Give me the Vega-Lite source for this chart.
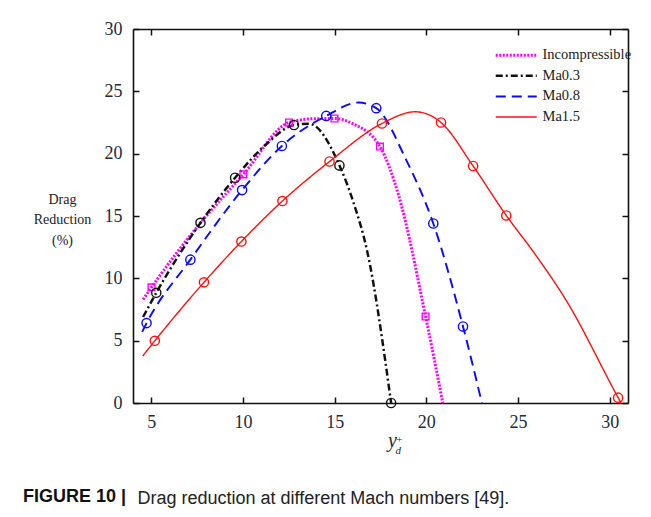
{
  "$schema": "https://vega.github.io/schema/vega-lite/v6.json",
  "width": 495,
  "height": 374,
  "autosize": {"type": "none"},
  "padding": {"left": 133, "top": 29, "right": 23, "bottom": 114},
  "background": "white",
  "title": {
    "text": "FIGURE 10 |",
    "orient": "bottom",
    "anchor": "start",
    "frame": "group",
    "font": "Liberation Sans",
    "fontSize": 18,
    "fontWeight": "bold",
    "color": "#111111",
    "dx": -110,
    "dy": -27,
    "offset": 8
  },
  "data": {
    "values": [
      {"s": "Incompressible", "x": 4.55, "y": 8.3, "m": 0},
      {"s": "Incompressible", "x": 5.01, "y": 9.28, "m": 1},
      {"s": "Incompressible", "x": 7.6, "y": 14.3, "m": 0},
      {"s": "Incompressible", "x": 10.02, "y": 18.34, "m": 1},
      {"s": "Incompressible", "x": 12.51, "y": 22.5, "m": 1},
      {"s": "Incompressible", "x": 13.8, "y": 22.8, "m": 0},
      {"s": "Incompressible", "x": 14.99, "y": 22.82, "m": 1},
      {"s": "Incompressible", "x": 16.0, "y": 22.4, "m": 0},
      {"s": "Incompressible", "x": 17.47, "y": 20.57, "m": 1},
      {"s": "Incompressible", "x": 18.5, "y": 16.6, "m": 0},
      {"s": "Incompressible", "x": 19.96, "y": 6.94, "m": 1},
      {"s": "Incompressible", "x": 20.9, "y": 0, "m": 0},
      {"s": "Ma0.3", "x": 4.55, "y": 6.9, "m": 0},
      {"s": "Ma0.3", "x": 5.27, "y": 8.84, "m": 1},
      {"s": "Ma0.3", "x": 7.68, "y": 14.45, "m": 1},
      {"s": "Ma0.3", "x": 9.57, "y": 18.07, "m": 1},
      {"s": "Ma0.3", "x": 11.3, "y": 20.8, "m": 0},
      {"s": "Ma0.3", "x": 12.78, "y": 22.3, "m": 1},
      {"s": "Ma0.3", "x": 13.6, "y": 22.4, "m": 0},
      {"s": "Ma0.3", "x": 15.26, "y": 19.06, "m": 1},
      {"s": "Ma0.3", "x": 16.0, "y": 16.2, "m": 0},
      {"s": "Ma0.3", "x": 16.8, "y": 12.0, "m": 0},
      {"s": "Ma0.3", "x": 18.08, "y": 0, "m": 1},
      {"s": "Ma0.8", "x": 4.5, "y": 5.7, "m": 0},
      {"s": "Ma0.8", "x": 4.74, "y": 6.41, "m": 1},
      {"s": "Ma0.8", "x": 7.13, "y": 11.5, "m": 1},
      {"s": "Ma0.8", "x": 9.95, "y": 17.08, "m": 1},
      {"s": "Ma0.8", "x": 12.12, "y": 20.62, "m": 1},
      {"s": "Ma0.8", "x": 14.54, "y": 23.03, "m": 1},
      {"s": "Ma0.8", "x": 16.3, "y": 24.1, "m": 0},
      {"s": "Ma0.8", "x": 17.27, "y": 23.65, "m": 1},
      {"s": "Ma0.8", "x": 18.9, "y": 19.5, "m": 0},
      {"s": "Ma0.8", "x": 20.38, "y": 14.4, "m": 1},
      {"s": "Ma0.8", "x": 22.0, "y": 6.14, "m": 1},
      {"s": "Ma0.8", "x": 23.03, "y": 0, "m": 0},
      {"s": "Ma1.5", "x": 4.53, "y": 3.77, "m": 0},
      {"s": "Ma1.5", "x": 5.19, "y": 4.99, "m": 1},
      {"s": "Ma1.5", "x": 7.87, "y": 9.68, "m": 1},
      {"s": "Ma1.5", "x": 9.91, "y": 12.95, "m": 1},
      {"s": "Ma1.5", "x": 12.15, "y": 16.2, "m": 1},
      {"s": "Ma1.5", "x": 14.72, "y": 19.37, "m": 1},
      {"s": "Ma1.5", "x": 17.58, "y": 22.42, "m": 1},
      {"s": "Ma1.5", "x": 19.4, "y": 23.36, "m": 0},
      {"s": "Ma1.5", "x": 20.8, "y": 22.5, "m": 1},
      {"s": "Ma1.5", "x": 22.55, "y": 19.01, "m": 1},
      {"s": "Ma1.5", "x": 24.36, "y": 15.04, "m": 1},
      {"s": "Ma1.5", "x": 25.9, "y": 12.0, "m": 0},
      {"s": "Ma1.5", "x": 27.6, "y": 8.3, "m": 0},
      {"s": "Ma1.5", "x": 30.46, "y": 0.43, "m": 1},
      {"s": "Ma1.5", "x": 30.62, "y": 0, "m": 0}
    ]
  },
  "layer": [
    {
      "mark": {"type": "line", "interpolate": "monotone", "clip": true},
      "encoding": {
        "x": {
          "field": "x", "type": "quantitative",
          "scale": {"domain": [4, 31], "nice": false, "zero": false},
          "axis": {
            "orient": "bottom",
            "values": [5, 10, 15, 20, 25, 30],
            "grid": false,
            "tickSize": -6,
            "labelPadding": 16,
            "labelFont": "Liberation Serif",
            "labelFontSize": 18,
            "labelColor": "#222a3a",
            "domainColor": "#111111",
            "domainWidth": 1.6,
            "tickColor": "#111111",
            "tickWidth": 1.5,
            "title": "y",
            "titleFont": "Liberation Serif",
            "titleFontStyle": "italic",
            "titleFontWeight": "normal",
            "titleFontSize": 20,
            "titleColor": "#222a3a",
            "titleAlign": "center",
            "titleBaseline": "alphabetic",
            "titleX": 259,
            "titleY": 43
          }
        },
        "y": {
          "field": "y", "type": "quantitative",
          "scale": {"domain": [0, 30], "nice": false, "zero": false},
          "axis": {
            "orient": "left",
            "values": [0, 5, 10, 15, 20, 25, 30],
            "grid": false,
            "tickSize": -6,
            "labelPadding": 17,
            "labelFont": "Liberation Serif",
            "labelFontSize": 18,
            "labelColor": "#222a3a",
            "domainColor": "#111111",
            "domainWidth": 1.6,
            "tickColor": "#111111",
            "tickWidth": 1.5,
            "title": ["Drag", "Reduction", "(%)"],
            "titleFont": "Liberation Serif",
            "titleFontWeight": "normal",
            "titleFontSize": 14,
            "titleColor": "#222222",
            "titleAngle": 0,
            "titleAlign": "center",
            "titleBaseline": "middle",
            "titleLineHeight": 20.5,
            "titleX": -71,
            "titleY": 170
          }
        },
        "color": {
          "field": "s", "type": "nominal",
          "scale": {"domain": ["Incompressible", "Ma0.3", "Ma0.8", "Ma1.5"], "range": ["#ff00ff", "#111111", "#0a0aff", "#ff1010"]},
          "legend": {
            "title": null,
            "orient": "none",
            "legendX": 376,
            "legendY": 19,
            "padding": 0,
            "symbolType": "M-4.1,0H4.1",
            "symbolSize": 100,
            "labelOffset": 19,
            "rowPadding": 5.6,
            "labelFont": "Liberation Serif",
            "labelFontSize": 14.5,
            "labelColor": "#222222",
            "labelLimit": 200
          }
        },
        "strokeDash": {
          "field": "s", "type": "nominal",
          "scale": {"domain": ["Incompressible", "Ma0.3", "Ma0.8", "Ma1.5"], "range": [[2, 1.5], [7, 3, 2, 3], [10, 6], [1, 0]]},
          "legend": {"title": null}
        },
        "strokeWidth": {
          "field": "s", "type": "nominal",
          "scale": {"domain": ["Incompressible", "Ma0.3", "Ma0.8", "Ma1.5"], "range": [3, 1.4, 1.6, 1.5]},
          "legend": {"title": null}
        }
      }
    },
    {
      "transform": [{"filter": "datum.m == 1"}],
      "mark": {"type": "point", "filled": false, "strokeWidth": 1.4, "opacity": 1},
      "encoding": {
        "x": {
          "field": "x", "type": "quantitative",
          "axis": {
            "orient": "top",
            "values": [5, 10, 15, 20, 25, 30],
            "grid": false,
            "labels": false,
            "tickSize": -6,
            "domainColor": "#111111",
            "domainWidth": 1.6,
            "tickColor": "#111111",
            "tickWidth": 1.5,
            "title": ["+", "d"],
            "titleFont": "Liberation Serif",
            "titleFontStyle": "italic",
            "titleFontWeight": "normal",
            "titleFontSize": 11,
            "titleColor": "#222a3a",
            "titleAlign": "left",
            "titleBaseline": "alphabetic",
            "titleLineHeight": 11,
            "titleAngle": 0,
            "titleX": 262,
            "titleY": 413
          }
        },
        "y": {
          "field": "y", "type": "quantitative",
          "axis": {
            "orient": "right",
            "values": [0, 5, 10, 15, 20, 25, 30],
            "grid": false,
            "labels": false,
            "tickSize": -6,
            "domainColor": "#111111",
            "domainWidth": 1.6,
            "tickColor": "#111111",
            "tickWidth": 1.5,
            "title": "Drag reduction at different Mach numbers [49].",
            "titleFont": "Liberation Sans",
            "titleFontWeight": "normal",
            "titleFontSize": 18,
            "titleColor": "#222222",
            "titleAngle": 0,
            "titleAlign": "left",
            "titleBaseline": "alphabetic",
            "titleX": -491,
            "titleY": 474
          }
        },
        "stroke": {
          "condition": [
            {"test": "datum.s == 'Incompressible'", "value": "#ff00ff"},
            {"test": "datum.s == 'Ma0.3'", "value": "#111111"},
            {"test": "datum.s == 'Ma0.8'", "value": "#0a0aff"}
          ],
          "value": "#ff1010"
        },
        "shape": {
          "condition": {"test": "datum.s == 'Incompressible'", "value": "square"},
          "value": "circle"
        },
        "size": {
          "condition": {"test": "datum.s == 'Incompressible'", "value": 45},
          "value": 85
        }
      }
    }
  ],
  "resolve": {"axis": {"x": "independent", "y": "independent"}},
  "config": {"view": {"stroke": null}}
}
